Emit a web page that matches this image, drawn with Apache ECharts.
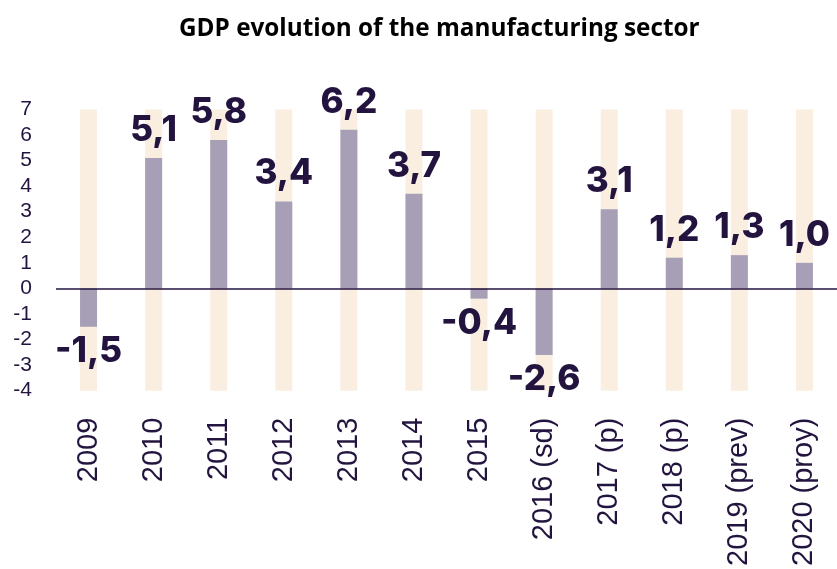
<!DOCTYPE html>
<html>
<head>
<meta charset="utf-8">
<script src="https://cdn.jsdelivr.net/npm/echarts@6/dist/echarts.min.js"></script>
<style>html,body{margin:0;padding:0;background:#fff;}#c{width:837px;height:569px;}</style>
</head>
<body>
<div id="c"></div>
<script>
var categories = ['2009','2010','2011','2012','2013','2014','2015','2016 (sd)','2017 (p)','2018 (p)','2019 (prev)','2020 (proy)'];
var values = [-1.5, 5.1, 5.8, 3.4, 6.2, 3.7, -0.4, -2.6, 3.1, 1.2, 1.3, 1.0];
var yTicks = {min: -4, max: 7, interval: 1};

var dark = '#23143f';
var chart = echarts.init(document.getElementById('c'));
var data = values.map(function (v) {
  return {
    value: v,
    label: v < 0 ? {position: 'bottom', distance: 7} : {position: 'top', distance: 10}
  };
});
chart.setOption({
  animation: false,
  title: {
    text: 'GDP evolution of the manufacturing sector',
    left: 174,
    top: 12,
    textStyle: {fontFamily: 'Open Sans', fontWeight: 'bold', fontSize: 24.3, color: '#000'}
  },
  grid: {left: 56, top: 109.4, bottom: 176.9, right: -3, containLabel: false},
  xAxis: {
    type: 'category',
    data: categories,
    axisLine: {show: false, onZero: false},
    axisTick: {show: false},
    axisLabel: {
      rotate: 90, margin: 27, interval: 0,
      fontFamily: 'Liberation Sans', fontSize: 29, color: dark
    }
  },
  yAxis: {
    type: 'value',
    min: yTicks.min, max: yTicks.max, interval: yTicks.interval,
    splitLine: {show: false},
    axisLine: {show: false},
    axisTick: {show: false},
    axisLabel: {
      margin: 24, fontFamily: 'Liberation Sans', fontSize: 21, color: dark,
      padding: [5, 0, 0, 0]
    }
  },
  series: [{
    type: 'bar',
    data: data,
    barWidth: 17,
    itemStyle: {color: '#a79fb5'},
    showBackground: true,
    backgroundStyle: {color: '#faeee0'},
    label: {
      show: true,
      fontFamily: 'Inter', fontWeight: 800, fontSize: 35, color: dark,
      formatter: function (p) { return p.value.toFixed(1).replace('.', ','); }
    },
    markLine: {
      silent: true, symbol: 'none', label: {show: false},
      lineStyle: {color: dark, width: 1.5, type: 'solid'},
      data: [{yAxis: 0}]
    }
  }]
});
</script>
</body>
</html>
